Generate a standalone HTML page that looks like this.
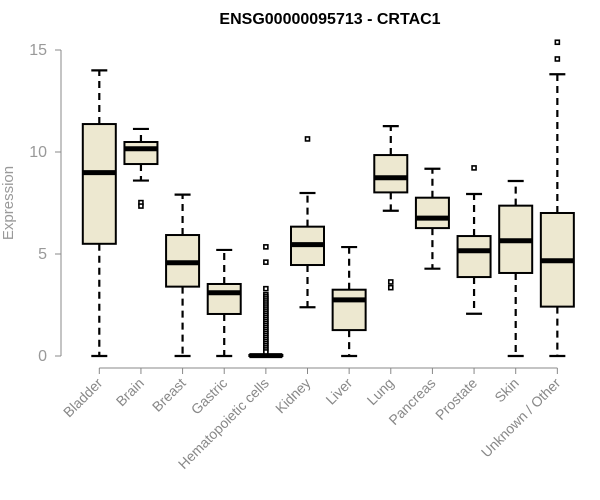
<!DOCTYPE html>
<html><head><meta charset="utf-8">
<style>
body{margin:0;background:#fff;}
svg{display:block;font-family:"Liberation Sans",Arial,sans-serif;}
</style></head>
<body>
<svg id="chart" width="600" height="500" viewBox="0 0 600 500" xmlns="http://www.w3.org/2000/svg">
<text x="330" y="24" text-anchor="middle" font-size="16" font-weight="bold" fill="#000">ENSG00000095713 - CRTAC1</text>
<text transform="translate(13,203) rotate(-90)" text-anchor="middle" font-size="15" fill="#999">Expression</text>
<g id="plot"></g>
</svg>
<script>
const categories=["Bladder","Brain","Breast","Gastric","Hematopoietic cells","Kidney","Liver","Lung","Pancreas","Prostate","Skin","Unknown / Other"];
const whiskerLow=[0,8.6,0,0,0,2.39,0,7.12,4.28,2.07,0,0];
const q1=[5.5,9.41,3.4,2.06,0,4.46,1.27,8.02,6.27,3.87,4.07,2.42];
const medians=[8.99,10.16,4.57,3.1,0.02,5.46,2.75,8.74,6.76,5.16,5.65,4.67];
const q3=[11.37,10.49,5.93,3.53,0.05,6.34,3.25,9.85,7.76,5.88,7.37,7.01];
const whiskerHigh=[14.0,11.13,7.91,5.2,0.05,7.99,5.34,11.27,9.18,7.94,8.58,13.81];
const outliers=[[],[7.52,7.35],[],[],[5.35,4.6,3.3,3.0,2.9,2.8,2.7,2.6,2.5,2.4,2.3,2.2,2.1,2.0,1.9,1.8,1.7,1.6,1.5,1.4,1.3,1.2,1.1,1.0,0.9,0.8,0.7,0.6,0.5,0.4,0.3,0.2],[10.64],[],[3.63,3.35],[],[9.22],[],[14.56,15.38]];
const yTicks=[0,5,10,15];

const NS="http://www.w3.org/2000/svg";
const g=document.getElementById("plot");
const y=v=>356-v*20.4;
const x=i=>99.3+i*41.64;
function el(tag,attrs){const e=document.createElementNS(NS,tag);for(const k in attrs)e.setAttribute(k,attrs[k]);g.appendChild(e);return e;}

let ya=el("line",{x1:61,x2:61,y1:y(15),y2:y(0),stroke:"#888","stroke-width":1});


yTicks.forEach(t=>{
  const tk=el("line",{x1:55,x2:61,y1:y(t),y2:y(t),stroke:"#888"});
  
  
  const tx=el("text",{x:47,y:y(t)+5,"text-anchor":"end","font-size":16,fill:"#999"});
  tx.textContent=t;
  
  
});
let xa=el("line",{x1:x(0),x2:x(categories.length-1),y1:368,y2:368,stroke:"#888"});



categories.forEach((c,i)=>{
  const cx=x(i);
  const tk=el("line",{x1:cx,x2:cx,y1:368,y2:374,stroke:"#888"});
  
  
  const lb=el("text",{transform:`translate(${cx+4},${384}) rotate(-45)`,"text-anchor":"end","font-size":14,fill:"#888"});
  lb.textContent=c;
  
  
  const w1=el("line",{x1:cx,x2:cx,y1:y(q3[i]),y2:y(whiskerHigh[i]),stroke:"#000","stroke-width":2.2,"stroke-dasharray":"7,5"});
  
  
  const w2=el("line",{x1:cx,x2:cx,y1:y(q1[i]),y2:y(whiskerLow[i]),stroke:"#000","stroke-width":2.2,"stroke-dasharray":"7,5"});
  
  
  const c1=el("line",{x1:cx-8,x2:cx+8,y1:y(whiskerHigh[i]),y2:y(whiskerHigh[i]),stroke:"#000","stroke-width":2.2});
  
  
  const c2=el("line",{x1:cx-8,x2:cx+8,y1:y(whiskerLow[i]),y2:y(whiskerLow[i]),stroke:"#000","stroke-width":2.2});
  
  
  const bx=el("rect",{x:cx-16.5,y:y(q3[i]),width:33,height:Math.max(y(q1[i])-y(q3[i]),1),fill:"#ede8d0",stroke:"#000","stroke-width":2});
  
  
  const md=el("line",{x1:cx-16.5,x2:cx+16.5,y1:y(medians[i]),y2:y(medians[i]),stroke:"#000","stroke-width":5});
  
  
  outliers[i].forEach(o=>{
    const p=el("rect",{x:cx-2,y:y(o)-2,width:4,height:4,fill:"#fff",stroke:"#000","stroke-width":1.6});
    
    
  });
});
</script>
</body></html>
